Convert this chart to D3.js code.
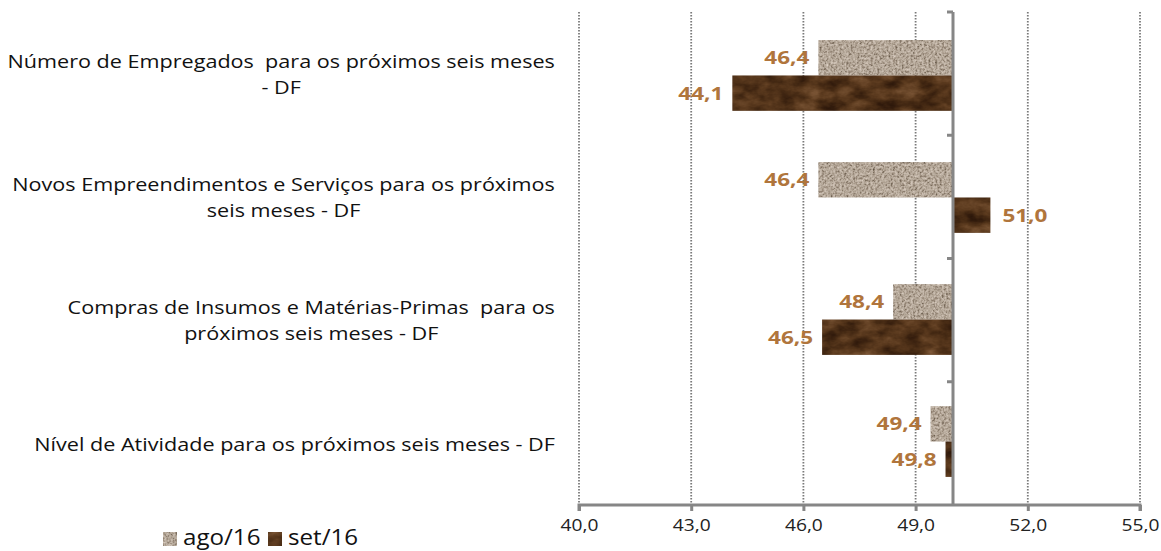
<!DOCTYPE html>
<html><head><meta charset="utf-8">
<script src="https://cdn.jsdelivr.net/npm/d3@7"></script>
<style>
html,body{margin:0;padding:0;background:#fff;}
svg{display:block;}
text{font-family:"Open Sans","DejaVu Sans",sans-serif;white-space:pre;}
</style></head>
<body>
<svg id="chart" width="1161" height="551"></svg>
<script>
const categories = [
  ["Número de Empregados  para os próximos seis meses", "- DF"],
  ["Novos Empreendimentos e Serviços para os próximos", "seis meses - DF"],
  ["Compras de Insumos e Matérias-Primas  para os", "próximos seis meses - DF"],
  ["Nível de Atividade para os próximos seis meses - DF"]
];
const seriesNames = ["ago/16", "set/16"];
const ago = [46.4, 46.4, 48.4, 49.4];
const set = [44.1, 51.0, 46.5, 49.8];
const xTicks = [40, 43, 46, 49, 52, 55];
const baseline = 50;

const svg = d3.select("#chart");
const defs = svg.append("defs");

function texture(id, freq, oct, seed, rT, gT, bT) {
  const f = defs.append("filter").attr("id", id)
    .attr("x", 0).attr("y", 0).attr("width", 1).attr("height", 1)
    .attr("color-interpolation-filters", "sRGB");
  f.append("feTurbulence").attr("type", "fractalNoise")
    .attr("baseFrequency", freq).attr("numOctaves", oct).attr("seed", seed).attr("result", "n");
  f.append("feColorMatrix").attr("in", "n").attr("type", "matrix")
    .attr("values", "1 0 0 0 0  1 0 0 0 0  1 0 0 0 0  0 0 0 0 1").attr("result", "g");
  const ct = f.append("feComponentTransfer").attr("in", "g").attr("result", "c");
  ct.append("feFuncR").attr("type", "table").attr("tableValues", rT);
  ct.append("feFuncG").attr("type", "table").attr("tableValues", gT);
  ct.append("feFuncB").attr("type", "table").attr("tableValues", bT);
  f.append("feComposite").attr("in", "c").attr("in2", "SourceGraphic").attr("operator", "in");
}
texture("granite", "0.45", 2, 4,
  "0.28 0.42 0.60 0.71 0.78 0.84 0.92",
  "0.23 0.37 0.54 0.66 0.73 0.79 0.88",
  "0.18 0.31 0.48 0.60 0.68 0.74 0.84");
texture("wood", "0.05 0.08", 4, 11,
  "0.14 0.20 0.28 0.36 0.44 0.54",
  "0.07 0.11 0.17 0.23 0.30 0.38",
  "0.03 0.05 0.08 0.12 0.18 0.25");
const fills = ["url(#granite)", "url(#wood)"];

function stretch(sel, sx, ax) {
  sel.attr("transform", `translate(${ax},0) scale(${sx},1) translate(${-ax},0)`);
}

const plotTop = 12, plotBottom = 505;
const x = d3.scaleLinear().domain([40, 55]).range([579, 1140]);
const y = d3.scaleBand().domain(d3.range(categories.length)).range([plotTop, plotBottom]).paddingInner(0.42).paddingOuter(0.23);
const yCat = d3.scaleBand().domain(d3.range(categories.length)).range([plotTop, plotBottom]);
const ySub = d3.scaleBand().domain([0, 1]).range([0, y.bandwidth()]);

// gridlines
svg.append("g").selectAll("line").data(xTicks).join("line")
  .attr("x1", d => x(d)).attr("x2", d => x(d))
  .attr("y1", plotTop).attr("y2", plotBottom)
  .attr("stroke", "#7a7a7a").attr("stroke-width", 1.8).attr("stroke-dasharray", "1.5,1.5");

// bars
const rows = categories.map((c, i) => [ago[i], set[i]]);
const gBars = svg.append("g");
rows.forEach((vals, i) => {
  vals.forEach((v, j) => {
    gBars.append("rect")
      .attr("x", x(Math.min(v, baseline)))
      .attr("y", y(i) + ySub(j))
      .attr("width", Math.abs(x(v) - x(baseline)))
      .attr("height", ySub.bandwidth())
      .attr("fill", "#000")
      .attr("filter", fills[j]);
  });
});

// x axis
const xAxis = d3.axisBottom(x).tickValues(xTicks).tickSize(6).tickFormat(d => d3.format(".1f")(d).replace(".", ","));
const gx = svg.append("g").attr("transform", `translate(0,${plotBottom})`).call(xAxis);
gx.select(".domain").attr("stroke", "#868686").attr("stroke-width", 3).attr("d", `M${x(40)},6V0H${x(55)}V6`);
gx.selectAll(".tick line").attr("stroke", "#868686").attr("stroke-width", 3);
gx.selectAll(".tick text").attr("font-size", 16).attr("fill", "#222").attr("dy", "1.05em")
  .style("font-family", '"Open Sans",sans-serif')
  .each(function() { stretch(d3.select(this), 1.2, 0); });

// vertical category axis at baseline
const yAxis = d3.axisLeft(yCat).tickSize(6).tickFormat("");
const gy = svg.append("g").attr("transform", `translate(${x(baseline)},0)`).call(yAxis);
gy.selectAll(".tick").remove();
gy.select(".domain").attr("stroke", "#868686").attr("stroke-width", 3).attr("d", `M0,${plotBottom}V${plotTop}`);
gy.selectAll("line.bnd").data(yCat.domain()).join("line").attr("class", "bnd")
  .attr("x1", -6).attr("x2", 0)
  .attr("y1", d => yCat(d)).attr("y2", d => yCat(d))
  .attr("stroke", "#868686").attr("stroke-width", 3);

// value labels
const gl = svg.append("g");
rows.forEach((vals, i) => {
  vals.forEach((v, j) => {
    const lx = v < baseline ? x(v) - 9 : x(v) + 12;
    const t = gl.append("text")
      .attr("x", lx)
      .attr("y", y(i) + ySub(j) + ySub.bandwidth() / 2)
      .attr("dy", "0.36em")
      .attr("text-anchor", v < baseline ? "end" : "start")
      .attr("font-size", 18).attr("font-weight", "bold").attr("fill", "#b0753c")
      .text(d3.format(".1f")(v).replace(".", ","));
    stretch(t, 1.25, lx);
  });
});

// category labels (centered block, right-aligned at 555)
const gc = svg.append("g");
const catSx = 1.2, catRight = 555;
categories.forEach((lines, i) => {
  const cy = yCat(i) + yCat.bandwidth() / 2;
  const t = gc.append("text").attr("font-size", 18).attr("fill", "#111");
  const lh = 26;
  lines.forEach((ln, k) => {
    t.append("tspan").attr("y", cy + (k - (lines.length - 1) / 2) * lh).attr("dy", "0.4em").text(ln);
  });
  const widths = t.selectAll("tspan").nodes().map(n => n.getComputedTextLength());
  const w = d3.max(widths);
  t.selectAll("tspan").attr("x", catRight - w / 2).attr("text-anchor", "middle");
  stretch(t, catSx, catRight);
});

// legend
const lg = svg.append("g");
const legX = [163, 268];
seriesNames.forEach((s, j) => {
  lg.append("rect").attr("x", legX[j]).attr("y", 532).attr("width", 14).attr("height", 14)
    .attr("fill", "#000").attr("filter", fills[j]);
  const t = lg.append("text").attr("x", legX[j] + 20).attr("y", 538).attr("dy", "0.35em")
    .attr("font-size", 21).attr("fill", "#111").text(s);
  stretch(t, 1.15, legX[j] + 20);
});
</script>
</body></html>
